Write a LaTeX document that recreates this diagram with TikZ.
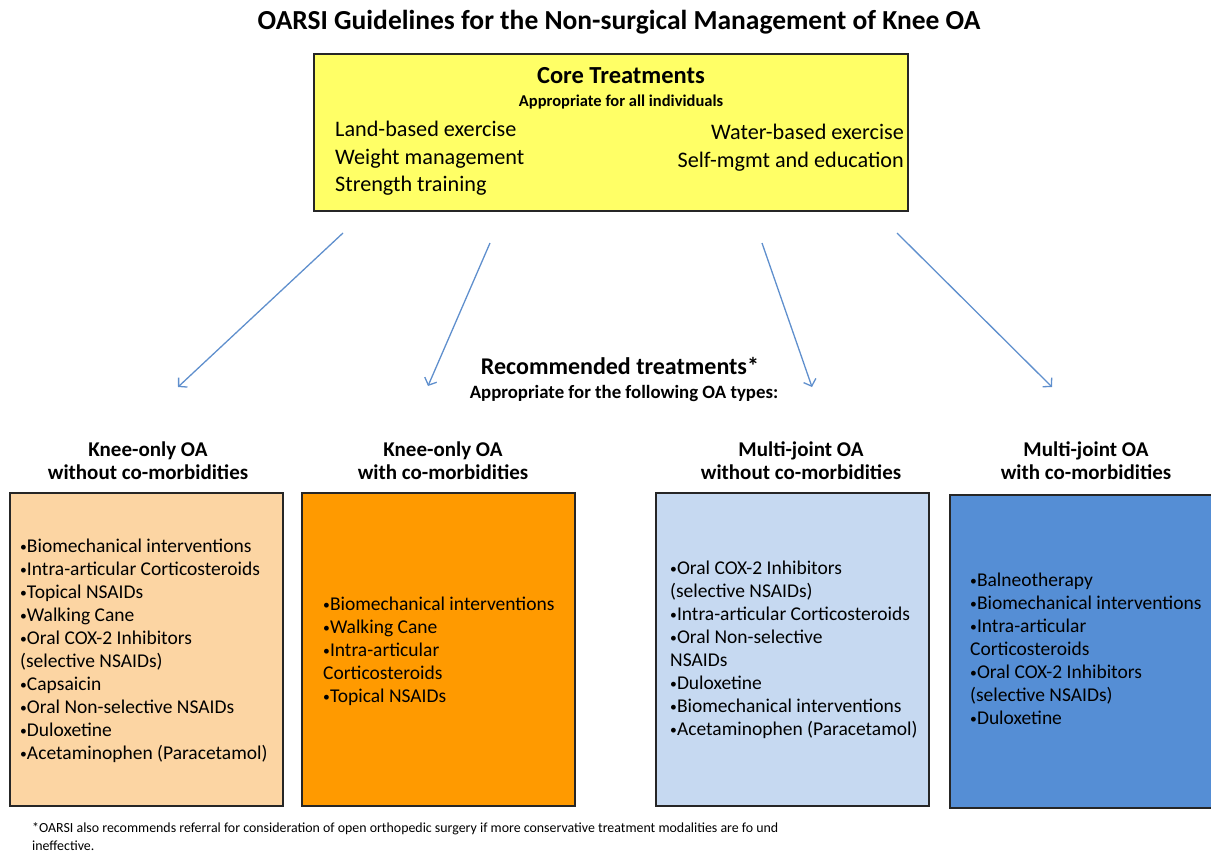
\documentclass[tikz,border=0pt]{standalone}
\usepackage{fontspec}
\setmainfont{Carlito}
\usetikzlibrary{arrows.meta}
\definecolor{coreyellow}{HTML}{FFFF66}
\definecolor{peach}{HTML}{FCD5A3}
\definecolor{deeporange}{HTML}{FF9A00}
\definecolor{paleblue}{HTML}{C6D9F1}
\definecolor{midblue}{HTML}{558ED5}
\definecolor{arrowblue}{HTML}{5F8FCD}
\def\bul{\raisebox{0.12ex}{\scalebox{0.7}{•}}}
\tikzset{
	tbox/.style={draw=black!85, line width=1.6pt, anchor=north west, minimum width=273pt, minimum height=313pt, inner sep=0pt},
	hdr/.style={font=\bfseries\fontsize{21}{23}\selectfont, align=center},
	items/.style={font=\fontsize{19.5}{23}\selectfont, align=left, anchor=north west, inner sep=0pt},
	blarrow/.style={draw=arrowblue, line width=1.3pt, -{Straight Barb[length=6pt,width=13pt]}},
}

\begin{document}
\begin{tikzpicture}[x=1pt, y=-1pt]
		%%%%% START %%%%%
		\useasboundingbox (0,0) rectangle (1211,854);
		
		\node[font=\bfseries\fontsize{27.5}{30}\selectfont] (title) at (619,22) {OARSI Guidelines for the Non-surgical Management of Knee OA};
		
		% core treatments
		\node[tbox, fill=coreyellow, minimum width=594pt, minimum height=157pt] (core) at (313,53) {};
		\node[font=\bfseries\fontsize{24.5}{28}\selectfont] (coretitle) at (621,76) {Core Treatments};
		\node[font=\bfseries\fontsize{16.5}{19}\selectfont] (coresub) at (621,102) {Appropriate for all individuals};
		\node[font=\fontsize{22.2}{27.5}\selectfont, align=left, anchor=north west, inner sep=0pt] (coreleft) at (335,121) {Land-based exercise\\Weight management\\Strength training};
		\node[font=\fontsize{22.2}{27.5}\selectfont, align=right, anchor=north east, inner sep=0pt] (coreright) at (904,124) {Water-based exercise\\Self-mgmt and education};
		
		% arrows
		\coordinate (s1) at (343,233); \coordinate (e1) at (178,387);
		\coordinate (s2) at (490,243); \coordinate (e2) at (428,386);
		\coordinate (s3) at (762,243); \coordinate (e3) at (812,387);
		\coordinate (s4) at (897,233); \coordinate (e4) at (1052,387);
		\foreach \i in {1,...,4}
			\draw[blarrow] (s\i) -- (e\i);
		
		\node[font=\bfseries\fontsize{24}{28}\selectfont] (rec) at (620,366) {Recommended treatments*};
		\node[font=\bfseries\fontsize{18.8}{21}\selectfont] (recsub) at (624,393) {Appropriate for the following OA types:};
		
		% column headers
		\node[hdr] (h1) at (148,461) {Knee-only OA\\without co-morbidities};
		\node[hdr] (h2) at (443,461) {Knee-only OA\\with co-morbidities};
		\node[hdr] (h3) at (801,461) {Multi-joint OA\\without co-morbidities};
		\node[hdr] (h4) at (1086,461) {Multi-joint OA\\with co-morbidities};
		
		% treatment boxes
		\node[tbox, fill=peach] (b1) at (9,492) {};
		\node[tbox, fill=deeporange] (b2) at (301,492) {};
		\node[tbox, fill=paleblue] (b3) at (655,492) {};
		\node[tbox, fill=midblue, minimum width=270pt] (b4) at (949,494) {};
		
		\node[items] (t1) at (20,539) {\bul Biomechanical interventions\\\bul Intra-articular Corticosteroids\\\bul Topical NSAIDs\\\bul Walking Cane\\\bul Oral COX-2 Inhibitors\\(selective NSAIDs)\\\bul Capsaicin\\\bul Oral Non-selective NSAIDs\\\bul Duloxetine\\\bul Acetaminophen (Paracetamol)};
		\node[items] (t2) at (323,597) {\bul Biomechanical interventions\\\bul Walking Cane\\\bul Intra-articular\\Corticosteroids\\\bul Topical NSAIDs};
		\node[items] (t3) at (670,561) {\bul Oral COX-2 Inhibitors\\(selective NSAIDs)\\\bul Intra-articular Corticosteroids\\\bul Oral Non-selective\\NSAIDs\\\bul Duloxetine\\\bul Biomechanical interventions\\\bul Acetaminophen (Paracetamol)};
		\node[items] (t4) at (970,573) {\bul Balneotherapy\\\bul Biomechanical interventions\\\bul Intra-articular\\Corticosteroids\\\bul Oral COX-2 Inhibitors\\(selective NSAIDs)\\\bul Duloxetine};
		
		% footnote
		\node[font=\fontsize{13.9}{18}\selectfont, align=left, anchor=north west, inner sep=0pt] (foot) at (32,822) {*OARSI also recommends referral for consideration of open orthopedic surgery if more conservative treatment modalities are fo und\\ineffective.};
		%%%%% END %%%%%
	\end{tikzpicture}
\end{document}
